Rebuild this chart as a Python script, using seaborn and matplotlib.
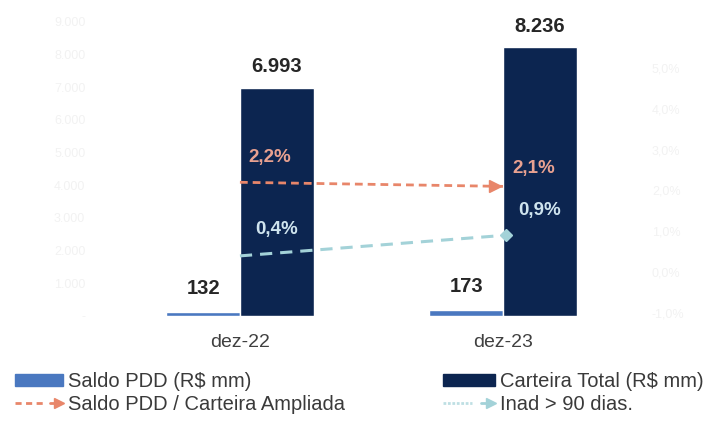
import numpy as np
import pandas as pd
import matplotlib
matplotlib.use('Agg')
import matplotlib.pyplot as plt
import seaborn as sns
from matplotlib.lines import Line2D
from matplotlib.patches import Patch
from matplotlib.legend_handler import HandlerBase
from matplotlib.ticker import FuncFormatter

# --- data ---
periodos = ['dez-22', 'dez-23']
saldo_pdd = [132, 173]            # R$ mm
carteira_total = [6993, 8236]     # R$ mm
pdd_sobre_carteira = [2.2, 2.1]   # %
inad_90 = [0.4, 0.9]              # %

left_ticks = [0, 1000, 2000, 3000, 4000, 5000, 6000, 7000, 8000, 9000]
right_ticks = [-1, 0, 1, 2, 3, 4, 5]

c_pdd = '#4a78c0'
c_cart = '#0c2550'
c_ratio = '#e8866a'
c_inad = '#a3d2d8'
c_txt = '#262626'
c_faint = '#f2f2f2'

sns.set_theme(style='white')
plt.rcParams['font.family'] = ['Liberation Sans', 'DejaVu Sans']


class DashArrow(HandlerBase):
    # dashed line + small arrow, like the legend in the reference
    def __init__(self, color, dashes, split, alpha=1.0):
        super().__init__()
        self.color = color
        self.dashes = dashes
        self.split = split
        self.alpha = alpha

    def create_artists(self, legend, orig_handle, xdescent, ydescent,
                       width, height, fontsize, trans):
        y = (height - ydescent) / 2
        x0 = -xdescent
        line = Line2D([x0, x0 + width * self.split], [y, y], color=self.color,
                      lw=2, dashes=self.dashes, alpha=self.alpha)
        stem = Line2D([x0 + width * 0.72, x0 + width * 0.92], [y, y],
                      color=self.color, lw=2)
        head = Line2D([x0 + width * 0.92], [y], marker='>', markersize=7,
                      color=self.color, lw=0)
        for a in (line, stem, head):
            a.set_transform(trans)
        return [line, stem, head]


df = pd.DataFrame({
    'periodo': periodos * 2,
    'serie': ['Saldo PDD (R$ mm)'] * 2 + ['Carteira Total (R$ mm)'] * 2,
    'valor': saldo_pdd + carteira_total,
})

fig = plt.figure(figsize=(7.12, 4.22), dpi=100)
ax = fig.add_axes([95 / 712, 1 - 316 / 422, 550 / 712, 294 / 422])

sns.barplot(data=df, x='periodo', y='valor', hue='serie',
            palette=[c_pdd, c_cart], width=0.56, saturation=1,
            legend=False, ax=ax)
ax.set_xlim(-0.551, 1.54)
ax.set_ylim(0, 9000)
ax.set_yticks(left_ticks)
ax.yaxis.set_major_formatter(FuncFormatter(
    lambda v, p: '-' if v == 0 else f'{v:,.0f}'.replace(',', '.')))
ax.tick_params(axis='y', colors=c_faint, labelsize=9, length=0, pad=7)
ax.tick_params(axis='x', labelsize=14, labelcolor='#404040', length=0, pad=13)
ax.set_xlabel('')
ax.set_ylabel('')
for s in ax.spines.values():
    s.set_visible(False)

# value labels over the bars
off = 0.14
for i in range(len(periodos)):
    ax.annotate(f'{carteira_total[i]:,}'.replace(',', '.'), (i + off, carteira_total[i]),
                xytext=(0, 8), textcoords='offset points', ha='center', va='bottom',
                fontsize=14.5, fontweight='bold', color=c_txt)
    ax.annotate(str(saldo_pdd[i]), (i - off, saldo_pdd[i]),
                xytext=(0, 10), textcoords='offset points', ha='center', va='bottom',
                fontsize=14.5, fontweight='bold', color=c_txt)

# percentage lines on a second axis
ax2 = ax.twinx()
xpos = np.arange(len(periodos))
sns.lineplot(x=xpos, y=pdd_sobre_carteira, ax=ax2, color=c_ratio, lw=2,
             dashes=False, linestyle=(0, (2.8, 1.8)), zorder=5)
sns.lineplot(x=xpos, y=inad_90, ax=ax2, color=c_inad, lw=2.2,
             dashes=False, linestyle=(0, (4, 2.6)), zorder=5)
ax2.plot(xpos[-1] - 0.03, pdd_sobre_carteira[-1], marker='>', markersize=8,
         color=c_ratio, zorder=6)
ax2.plot(xpos[-1] + 0.01, inad_90[-1], marker='D', markersize=6,
         color=c_inad, zorder=6)
ax2.set_ylim(-1.07, 6.12)
ax2.set_yticks(right_ticks)
ax2.yaxis.set_major_formatter(FuncFormatter(lambda v, p: f'{v:.1f}%'.replace('.', ',')))
ax2.tick_params(axis='y', colors=c_faint, labelsize=9, length=0, pad=5)
for s in ax2.spines.values():
    s.set_visible(False)
ax2.grid(False)

pct_offsets = [(-5, 18), (-4, 13)]
for i in range(len(periodos)):
    ax2.annotate(f'{pdd_sobre_carteira[i]:.1f}%'.replace('.', ','),
                 (i + off, pdd_sobre_carteira[i]), xytext=pct_offsets[i],
                 textcoords='offset points', ha='center', va='center',
                 fontsize=13.5, fontweight='bold', color='#e9a190')
    ax2.annotate(f'{inad_90[i]:.1f}%'.replace('.', ','),
                 (i + off, inad_90[i]), xytext=(0, 19 if i == 0 else 18),
                 textcoords='offset points', ha='center', va='center',
                 fontsize=13.5, fontweight='bold', color='#cfe4ee')

# legends below the chart
h_pdd = Patch(color=c_pdd)
h_cart = Patch(color=c_cart)
h_ratio = Line2D([], [], color=c_ratio)
h_inad = Line2D([], [], color=c_inad)

leg_kw = dict(loc='upper left', frameon=False, fontsize=14.5, borderpad=0,
              borderaxespad=0, handletextpad=0.25, labelspacing=0.2,
              handleheight=0.55, labelcolor='#3a3a3a')
fig.legend([h_pdd, h_ratio], ['Saldo PDD (R$ mm)', 'Saldo PDD / Carteira Ampliada'],
           bbox_to_anchor=(15 / 712, 1 - 372 / 422), handlelength=2.4,
           handler_map={h_ratio: DashArrow(c_ratio, (2.2, 1.6), 0.62)}, **leg_kw)
fig.legend([h_cart, h_inad], ['Carteira Total (R$ mm)', 'Inad > 90 dias.'],
           bbox_to_anchor=(443 / 712, 1 - 372 / 422), handlelength=2.6,
           handler_map={h_inad: DashArrow(c_inad, (1, 0.6), 0.55, alpha=0.7)}, **leg_kw)

fig.savefig('out.png', dpi=100)
